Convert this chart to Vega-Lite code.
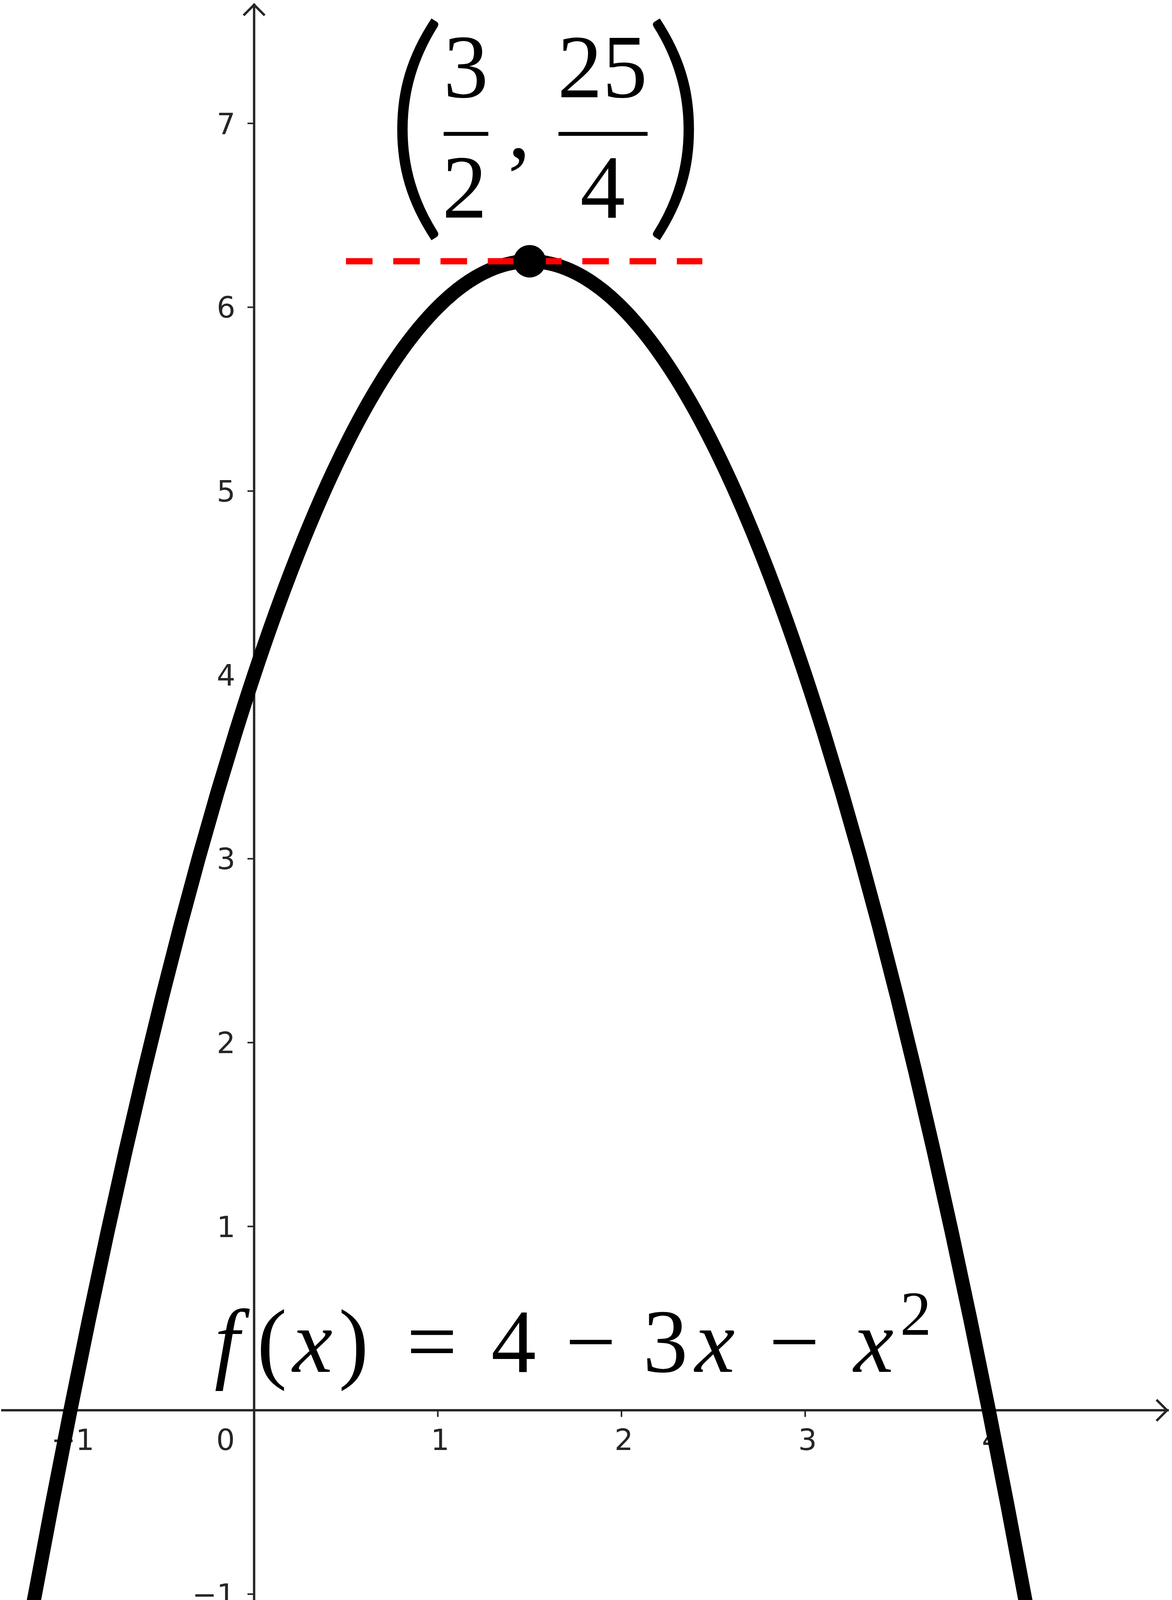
{
  "$schema": "https://vega.github.io/schema/vega-lite/v6.json",
  "width": 3000,
  "height": 4196,
  "autosize": {"type": "fit", "contains": "padding"},
  "padding": 0,
  "background": "white",
  "config": {"view": {"stroke": null}},
  "datasets": {
    "curve": [
      {"x": -1.3, "y": -1.59}, {"x": -1.2, "y": -1.04}, {"x": -1.1, "y": -0.51}, {"x": -1.0, "y": 0},
      {"x": -0.9, "y": 0.49}, {"x": -0.8, "y": 0.96}, {"x": -0.7, "y": 1.41}, {"x": -0.6, "y": 1.84},
      {"x": -0.5, "y": 2.25}, {"x": -0.4, "y": 2.64}, {"x": -0.3, "y": 3.01}, {"x": -0.2, "y": 3.36},
      {"x": -0.1, "y": 3.69}, {"x": 0.0, "y": 4.0}, {"x": 0.1, "y": 4.29}, {"x": 0.2, "y": 4.56},
      {"x": 0.3, "y": 4.81}, {"x": 0.4, "y": 5.04}, {"x": 0.5, "y": 5.25}, {"x": 0.6, "y": 5.44},
      {"x": 0.7, "y": 5.61}, {"x": 0.8, "y": 5.76}, {"x": 0.9, "y": 5.89}, {"x": 1.0, "y": 6.0},
      {"x": 1.1, "y": 6.09}, {"x": 1.2, "y": 6.16}, {"x": 1.3, "y": 6.21}, {"x": 1.4, "y": 6.24},
      {"x": 1.5, "y": 6.25}, {"x": 1.6, "y": 6.24}, {"x": 1.7, "y": 6.21}, {"x": 1.8, "y": 6.16},
      {"x": 1.9, "y": 6.09}, {"x": 2.0, "y": 6.0}, {"x": 2.1, "y": 5.89}, {"x": 2.2, "y": 5.76},
      {"x": 2.3, "y": 5.61}, {"x": 2.4, "y": 5.44}, {"x": 2.5, "y": 5.25}, {"x": 2.6, "y": 5.04},
      {"x": 2.7, "y": 4.81}, {"x": 2.8, "y": 4.56}, {"x": 2.9, "y": 4.29}, {"x": 3.0, "y": 4.0},
      {"x": 3.1, "y": 3.69}, {"x": 3.2, "y": 3.36}, {"x": 3.3, "y": 3.01}, {"x": 3.4, "y": 2.64},
      {"x": 3.5, "y": 2.25}, {"x": 3.6, "y": 1.84}, {"x": 3.7, "y": 1.41}, {"x": 3.8, "y": 0.96},
      {"x": 3.9, "y": 0.49}, {"x": 4.0, "y": 0}, {"x": 4.1, "y": -0.51}, {"x": 4.2, "y": -1.04},
      {"x": 4.3, "y": -1.59}
    ],
    "origin": [{"x": 0, "y": 0, "label": "0"}],
    "xticks": [
      {"x": -1, "label": "−1"}, {"x": 1, "label": "1"}, {"x": 2, "label": "2"},
      {"x": 3, "label": "3"}, {"x": 4, "label": "4"}
    ],
    "yticks": [
      {"y": -1, "label": "−1"}, {"y": 1, "label": "1"}, {"y": 2, "label": "2"}, {"y": 3, "label": "3"},
      {"y": 4, "label": "4"}, {"y": 5, "label": "5"}, {"y": 6, "label": "6"}, {"y": 7, "label": "7"}
    ],
    "arrows": [{"x": 4.97, "y": 0, "dir": "right"}, {"x": 0, "y": 7.645, "dir": "up"}],
    "tangent": [{"x": 0.5, "x2": 2.44, "y": 6.25}],
    "vertex": [{"x": 1.5, "y": 6.25}],
    "parens": [{"x": 0.879, "y": 6.543, "t": "("}, {"x": 2.295, "y": 6.543, "t": ")"}],
    "frac": [
      {"x": 1.153, "y": 7.142, "t": "3"}, {"x": 1.146, "y": 6.488, "t": "2"},
      {"x": 1.443, "y": 6.815, "t": ","},
      {"x": 1.896, "y": 7.142, "t": "25"}, {"x": 1.898, "y": 6.488, "t": "4"}
    ],
    "bars": [{"x": 1.032, "x2": 1.275, "y": 6.943}, {"x": 1.657, "x2": 2.142, "y": 6.943}],
    "formula": [
      {"x": 0.097, "y": 0.208, "t": "("}, {"x": 0.542, "y": 0.208, "t": ")"},
      {"x": 0.968, "y": 0.208, "t": "="}, {"x": 1.413, "y": 0.208, "t": "4"},
      {"x": 1.833, "y": 0.208, "t": "−"}, {"x": 2.239, "y": 0.208, "t": "3"},
      {"x": 2.941, "y": 0.208, "t": "−"}
    ],
    "formulaItalic": [
      {"x": -0.148, "y": 0.208, "t": "f"}, {"x": 0.318, "y": 0.208, "t": "x"},
      {"x": 2.508, "y": 0.208, "t": "x"}, {"x": 3.373, "y": 0.208, "t": "x"}
    ],
    "power": [{"x": 3.602, "y": 0.41, "t": "2"}]
  },
  "layer": [
    {
      "data": {"name": "origin"},
      "mark": {"type": "rule", "color": "#252525", "strokeWidth": 6},
      "encoding": {
        "y": {"field": "y", "type": "quantitative", "scale": {"domain": [-1.238, 7.652], "nice": false, "zero": false}, "axis": null}
      }
    },
    {
      "data": {"name": "origin"},
      "mark": {"type": "rule", "color": "#252525", "strokeWidth": 6},
      "encoding": {
        "x": {"field": "x", "type": "quantitative", "scale": {"domain": [-1.377, 4.98], "nice": false, "zero": false}, "axis": null}
      }
    },
    {
      "data": {"name": "xticks"},
      "mark": {"type": "rule", "color": "#252525", "strokeWidth": 4},
      "encoding": {
        "x": {"field": "x", "type": "quantitative", "scale": {"domain": [-1.377, 4.98], "nice": false, "zero": false}, "axis": null},
        "y": {"datum": 0, "type": "quantitative", "scale": {"domain": [-1.238, 7.652], "nice": false, "zero": false}, "axis": null},
        "y2": {"datum": -0.036}
      }
    },
    {
      "data": {"name": "yticks"},
      "mark": {"type": "rule", "color": "#252525", "strokeWidth": 4},
      "encoding": {
        "y": {"field": "y", "type": "quantitative", "scale": {"domain": [-1.238, 7.652], "nice": false, "zero": false}, "axis": null},
        "x": {"datum": -0.036, "type": "quantitative", "scale": {"domain": [-1.377, 4.98], "nice": false, "zero": false}, "axis": null},
        "x2": {"datum": 0}
      }
    },
    {
      "data": {"name": "xticks"},
      "mark": {"type": "text", "font": "DejaVu Sans", "fontSize": 75, "color": "#252525", "align": "center", "baseline": "alphabetic", "dx": 6, "dy": 102},
      "encoding": {
        "x": {"field": "x", "type": "quantitative", "scale": {"domain": [-1.377, 4.98], "nice": false, "zero": false}, "axis": null},
        "y": {"datum": 0, "type": "quantitative", "scale": {"domain": [-1.238, 7.652], "nice": false, "zero": false}, "axis": null},
        "text": {"field": "label"}
      }
    },
    {
      "data": {"name": "origin"},
      "mark": {"type": "text", "font": "DejaVu Sans", "fontSize": 75, "color": "#252525", "align": "center", "baseline": "alphabetic", "dx": -73, "dy": 102},
      "encoding": {
        "x": {"field": "x", "type": "quantitative", "scale": {"domain": [-1.377, 4.98], "nice": false, "zero": false}, "axis": null},
        "y": {"field": "y", "type": "quantitative", "scale": {"domain": [-1.238, 7.652], "nice": false, "zero": false}, "axis": null},
        "text": {"field": "label"}
      }
    },
    {
      "data": {"name": "yticks"},
      "mark": {"type": "text", "font": "DejaVu Sans", "fontSize": 75, "color": "#252525", "align": "right", "baseline": "alphabetic", "dx": -48, "dy": 27},
      "encoding": {
        "y": {"field": "y", "type": "quantitative", "scale": {"domain": [-1.238, 7.652], "nice": false, "zero": false}, "axis": null},
        "x": {"datum": 0, "type": "quantitative", "scale": {"domain": [-1.377, 4.98], "nice": false, "zero": false}, "axis": null},
        "text": {"field": "label"}
      }
    },
    {
      "data": {"name": "arrows"},
      "mark": {"type": "point", "filled": false, "color": "#252525", "strokeWidth": 6, "size": 2916, "opacity": 1},
      "encoding": {
        "x": {"field": "x", "type": "quantitative", "scale": {"domain": [-1.377, 4.98], "nice": false, "zero": false}, "axis": null},
        "y": {"field": "y", "type": "quantitative", "scale": {"domain": [-1.238, 7.652], "nice": false, "zero": false}, "axis": null},
        "shape": {"field": "dir", "type": "nominal", "scale": {"domain": ["right", "up"], "range": ["M-1,-1L0,0L-1,1", "M-1,1L0,0L1,1"]}, "legend": null}
      }
    },
    {
      "data": {"name": "curve"},
      "mark": {"type": "line", "color": "black", "strokeWidth": 36, "interpolate": "monotone", "clip": true},
      "encoding": {
        "x": {"field": "x", "type": "quantitative", "scale": {"domain": [-1.377, 4.98], "nice": false, "zero": false}, "axis": null},
        "y": {"field": "y", "type": "quantitative", "scale": {"domain": [-1.238, 7.652], "nice": false, "zero": false}, "axis": null}
      }
    },
    {
      "data": {"name": "tangent"},
      "mark": {"type": "rule", "color": "#ff0000", "strokeWidth": 16, "strokeDash": [68, 53]},
      "encoding": {
        "x": {"field": "x", "type": "quantitative", "scale": {"domain": [-1.377, 4.98], "nice": false, "zero": false}, "axis": null},
        "x2": {"field": "x2"},
        "y": {"field": "y", "type": "quantitative", "scale": {"domain": [-1.238, 7.652], "nice": false, "zero": false}, "axis": null}
      }
    },
    {
      "data": {"name": "vertex"},
      "mark": {"type": "point", "filled": true, "color": "black", "size": 6940, "opacity": 1, "shape": "circle"},
      "encoding": {
        "x": {"field": "x", "type": "quantitative", "scale": {"domain": [-1.377, 4.98], "nice": false, "zero": false}, "axis": null},
        "y": {"field": "y", "type": "quantitative", "scale": {"domain": [-1.238, 7.652], "nice": false, "zero": false}, "axis": null}
      }
    },
    {
      "data": {"name": "parens"},
      "mark": {"type": "text", "font": "Lato", "fontWeight": 300, "fontSize": 634, "color": "black", "align": "center", "baseline": "alphabetic"},
      "encoding": {
        "x": {"field": "x", "type": "quantitative", "scale": {"domain": [-1.377, 4.98], "nice": false, "zero": false}, "axis": null},
        "y": {"field": "y", "type": "quantitative", "scale": {"domain": [-1.238, 7.652], "nice": false, "zero": false}, "axis": null},
        "text": {"field": "t"}
      }
    },
    {
      "data": {"name": "frac"},
      "mark": {"type": "text", "font": "Liberation Serif", "fontSize": 230, "color": "black", "align": "center", "baseline": "alphabetic"},
      "encoding": {
        "x": {"field": "x", "type": "quantitative", "scale": {"domain": [-1.377, 4.98], "nice": false, "zero": false}, "axis": null},
        "y": {"field": "y", "type": "quantitative", "scale": {"domain": [-1.238, 7.652], "nice": false, "zero": false}, "axis": null},
        "text": {"field": "t"}
      }
    },
    {
      "data": {"name": "bars"},
      "mark": {"type": "rule", "color": "black", "strokeWidth": 10},
      "encoding": {
        "x": {"field": "x", "type": "quantitative", "scale": {"domain": [-1.377, 4.98], "nice": false, "zero": false}, "axis": null},
        "x2": {"field": "x2"},
        "y": {"field": "y", "type": "quantitative", "scale": {"domain": [-1.238, 7.652], "nice": false, "zero": false}, "axis": null}
      }
    },
    {
      "data": {"name": "formula"},
      "mark": {"type": "text", "font": "Liberation Serif", "fontSize": 230, "color": "black", "align": "center", "baseline": "alphabetic"},
      "encoding": {
        "x": {"field": "x", "type": "quantitative", "scale": {"domain": [-1.377, 4.98], "nice": false, "zero": false}, "axis": null},
        "y": {"field": "y", "type": "quantitative", "scale": {"domain": [-1.238, 7.652], "nice": false, "zero": false}, "axis": null},
        "text": {"field": "t"}
      }
    },
    {
      "data": {"name": "formulaItalic"},
      "mark": {"type": "text", "font": "Liberation Serif", "fontStyle": "italic", "fontSize": 230, "color": "black", "align": "center", "baseline": "alphabetic"},
      "encoding": {
        "x": {"field": "x", "type": "quantitative", "scale": {"domain": [-1.377, 4.98], "nice": false, "zero": false}, "axis": null},
        "y": {"field": "y", "type": "quantitative", "scale": {"domain": [-1.238, 7.652], "nice": false, "zero": false}, "axis": null},
        "text": {"field": "t"}
      }
    },
    {
      "data": {"name": "power"},
      "mark": {"type": "text", "font": "Liberation Serif", "fontSize": 160, "color": "black", "align": "center", "baseline": "alphabetic"},
      "encoding": {
        "x": {"field": "x", "type": "quantitative", "scale": {"domain": [-1.377, 4.98], "nice": false, "zero": false}, "axis": null},
        "y": {"field": "y", "type": "quantitative", "scale": {"domain": [-1.238, 7.652], "nice": false, "zero": false}, "axis": null},
        "text": {"field": "t"}
      }
    }
  ]
}
